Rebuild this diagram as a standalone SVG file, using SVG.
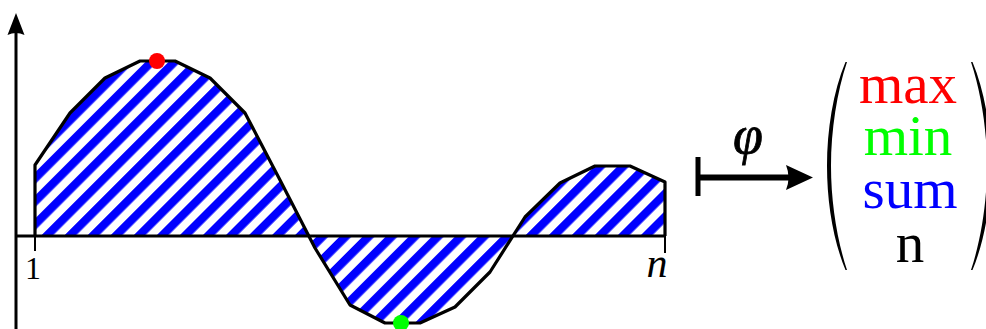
<svg xmlns="http://www.w3.org/2000/svg" width="986" height="329" viewBox="0 0 986 329">
<style>
.ln{fill:none;stroke:#000;stroke-width:3.2;stroke-linejoin:round}
.lbl{font-family:"Liberation Serif","DejaVu Serif",serif;fill:#000}
.ent{font-family:"Liberation Serif","DejaVu Serif",serif;font-size:57px;text-anchor:middle}
</style>
<defs>
<pattern id="hatch" patternUnits="userSpaceOnUse" width="16.3" height="16.3" patternTransform="rotate(45)">
<rect width="16.3" height="16.3" fill="#fff"/>
<rect width="8.3" height="16.3" fill="#0000ff"/>
</pattern>
</defs>
<rect width="986" height="329" fill="#fff"/>
<g id="plot">
<path id="area" d="M35,236 L35,165 L70,113 L105,78 L140,61 L175,61 L210,78 L245,113 L280,180 L315,248 L350,305 L385,323 L420,323 L455,307 L490,272 L525,217 L560,183 L595,166 L630,166 L665,182 L665,236 Z" fill="url(#hatch)"/>
<path class="ln" d="M35,236 L35,165 L70,113 L105,78 L140,61 L175,61 L210,78 L245,113 L280,180 L315,248 L350,305 L385,323 L420,323 L455,307 L490,272 L525,217 L560,183 L595,166 L630,166 L665,182 L665,236"/>
<g id="axes">
<line x1="16" y1="30" x2="16" y2="329" stroke="#000" stroke-width="3"/>
<path d="M16,13 L24.5,35 Q16,31 7.5,35 Z" fill="#000"/>
<line x1="15" y1="236" x2="665" y2="236" stroke="#000" stroke-width="3"/>
<line x1="35" y1="236" x2="35" y2="251" stroke="#000" stroke-width="2"/>
<line x1="665" y1="236" x2="665" y2="253" stroke="#000" stroke-width="2"/>
<text class="lbl" x="33" y="279" font-size="32" text-anchor="middle">1</text>
<text class="lbl" x="657" y="277" font-size="42" font-style="italic" text-anchor="middle">n</text>
</g>
<circle id="maxdot" cx="157" cy="61" r="8" fill="#ff0000"/>
<circle id="mindot" cx="401" cy="323" r="8" fill="#00ff00"/>
</g>
<g id="connectors">
<g id="mapsto">
<line x1="698" y1="157" x2="698" y2="196" stroke="#000" stroke-width="5"/>
<line x1="698" y1="177.5" x2="792" y2="177.5" stroke="#000" stroke-width="6"/>
<path d="M813,177.5 L786,165 Q791,177.5 786,190 Z" fill="#000"/>
<text class="lbl" x="748" y="153" font-size="54" font-style="italic" text-anchor="middle" stroke="#000" stroke-width="0.8">φ</text>
</g>
</g>
<g id="vector">
<path d="M845.5,62 C833,92 827,130 827,166 C827,202 833,240 845.5,270 L847,270 C837,240 831,202 831,166 C831,130 837,92 847,62 Z" fill="#000"/>
<path d="M972.5,62 C985,92 991,130 991,166 C991,202 985,240 972.5,270 L971,270 C981,240 987,202 987,166 C987,130 981,92 971,62 Z" fill="#000"/>
<text class="ent" x="908" y="103" fill="#ff0000">max</text>
<text class="ent" x="908" y="155" fill="#00ff00">min</text>
<text class="ent" x="910" y="208" fill="#0000ff">sum</text>
<text class="ent" x="910" y="262" fill="#000">n</text>
</g>
</svg>
